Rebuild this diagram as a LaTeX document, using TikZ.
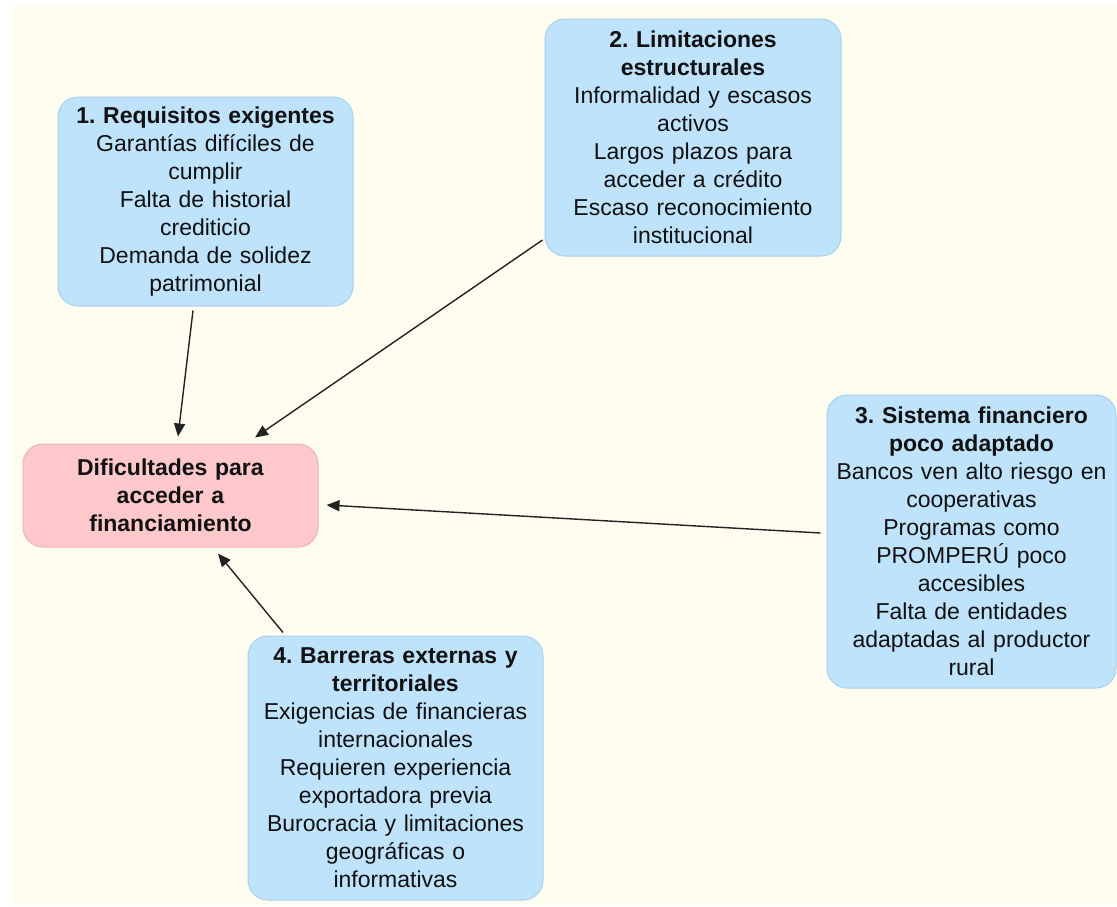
\documentclass[tikz,border=0pt]{standalone}
\usepackage{fontspec}
\setmainfont{Liberation Sans}
\usetikzlibrary{arrows.meta,calc}
\frenchspacing

\definecolor{paper}{RGB}{255,252,240}
\definecolor{bluefill}{RGB}{190,227,251}
\definecolor{blueline}{RGB}{166,208,238}
\definecolor{pinkfill}{RGB}{255,200,202}
\definecolor{pinkline}{RGB}{240,180,182}
\definecolor{ink}{RGB}{17,17,17}
\definecolor{wire}{RGB}{34,34,34}

\tikzset{
  box/.style={rounded corners=20pt, line width=1pt, inner sep=0pt,
    align=center, text=ink, font=\fontsize{23}{28}\selectfont},
  cause/.style={box, draw=blueline, fill=bluefill},
  effect/.style={box, draw=pinkline, fill=pinkfill},
  link/.style={draw=wire, line width=1.4pt,
    -{Triangle[length=13pt,width=11pt]}}
}

\begin{document}
\begin{tikzpicture}[x=1pt,y=-1pt]
  % canvas and paper-coloured background
  \fill[white] (0,0) rectangle (1117,906);
  \fill[paper] (10,6) rectangle (1117,905);
  \useasboundingbox (0,0) rectangle (1117,906);

  % central problem
  \node[effect, minimum width=295pt, minimum height=103pt, text width=285pt]
    (ctr) at (170.5,495.5)
    {\textbf{Dificultades para}\\\textbf{acceder a}\\\textbf{financiamiento}};

  % causes
  \node[cause, minimum width=295pt, minimum height=209pt, text width=285pt]
    (b1) at (205.5,201.5)
    {\textbf{1. Requisitos exigentes}\\Garantías difíciles de\\cumplir\\Falta de historial\\crediticio\\Demanda de solidez\\patrimonial};

  \node[cause, minimum width=296pt, minimum height=237pt, text width=286pt]
    (b2) at (693,137.5)
    {\textbf{2. Limitaciones}\\\textbf{estructurales}\\Informalidad y escasos\\activos\\Largos plazos para\\acceder a crédito\\Escaso reconocimiento\\institucional};

  \node[cause, minimum width=289pt, minimum height=293pt, text width=283pt]
    (b3) at (971.5,541.5)
    {\textbf{3. Sistema financiero}\\\textbf{poco adaptado}\\Bancos ven alto riesgo en\\cooperativas\\Programas como\\PROMPERÚ poco\\accesibles\\Falta de entidades\\adaptadas al productor\\rural};

  \node[cause, minimum width=295pt, minimum height=264pt, text width=285pt]
    (b4) at (395.5,768)
    {\textbf{4. Barreras externas y}\\\textbf{territoriales}\\Exigencias de financieras\\internacionales\\Requieren experiencia\\exportadora previa\\Burocracia y limitaciones\\geográficas o\\informativas};

  % arrows from each cause to the central problem
  \draw[link] ($(b1.south)+(-12.5,4)$) -- ($(ctr.north)+(7.5,-7)$);
  \draw[link] ($(b2.west)+(-2,102.5)$) -- ($(ctr.north)+(84.5,-6)$);
  \draw[link] ($(b3.west)+(-6,-8.5)$) -- ($(ctr.east)+(8,9.5)$);
  \draw[link] ($(b4.north)+(-112.5,-3)$) -- ($(ctr.south)+(47.5,6)$);
\end{tikzpicture}
\end{document}
